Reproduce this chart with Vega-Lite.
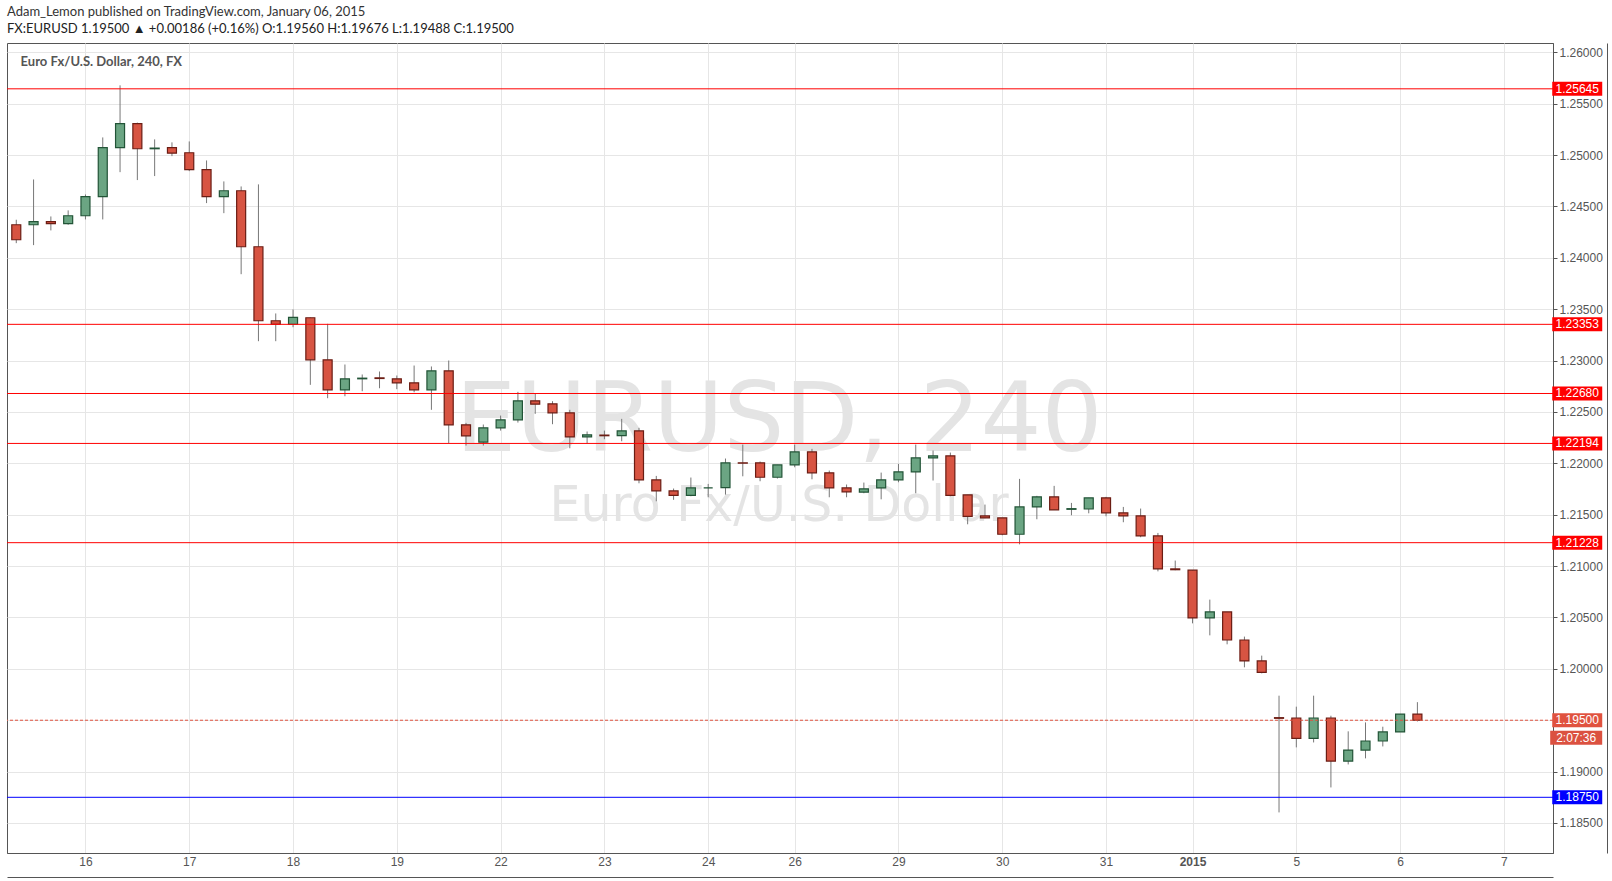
{
  "$schema": "https://vega.github.io/schema/vega-lite/v6.json",
  "width": 1546,
  "height": 810,
  "autosize": {"type": "none"},
  "padding": {"left": 7, "top": 43, "right": 59, "bottom": 28},
  "background": "#ffffff",
  "config": {
    "view": {"stroke": "#555555", "strokeWidth": 1},
    "font": "Liberation Sans"
  },
  "title": {
    "text": "Adam_Lemon published on TradingView.com, January 06, 2015",
    "subtitle": "FX:EURUSD 1.19500 ▲ +0.00186 (+0.16%) O:1.19560 H:1.19676 L:1.19488 C:1.19500",
    "anchor": "start",
    "frame": "group",
    "offset": 7,
    "subtitlePadding": 4,
    "font": "Lato",
    "fontSize": 13,
    "fontWeight": "normal",
    "color": "#333333",
    "subtitleFont": "Lato",
    "subtitleFontSize": 13,
    "subtitleColor": "#222222"
  },
  "datasets": {
    "candles": [
      {"i":0,"o":1.24322,"h":1.24371,"l":1.24143,"c":1.24176},
      {"i":1,"o":1.24322,"h":1.24763,"l":1.24124,"c":1.24352},
      {"i":2,"o":1.24352,"h":1.24403,"l":1.24267,"c":1.24333},
      {"i":3,"o":1.24333,"h":1.24462,"l":1.24322,"c":1.24410},
      {"i":4,"o":1.24410,"h":1.24617,"l":1.24374,"c":1.24595},
      {"i":5,"o":1.24595,"h":1.25172,"l":1.24374,"c":1.25072},
      {"i":6,"o":1.25072,"h":1.25679,"l":1.24834,"c":1.25306},
      {"i":7,"o":1.25306,"h":1.25316,"l":1.24757,"c":1.25062},
      {"i":8,"o":1.25062,"h":1.25153,"l":1.24796,"c":1.25068},
      {"i":9,"o":1.25072,"h":1.25124,"l":1.24990,"c":1.25019},
      {"i":10,"o":1.25023,"h":1.25133,"l":1.24844,"c":1.24858},
      {"i":11,"o":1.24858,"h":1.24948,"l":1.24533,"c":1.24595},
      {"i":12,"o":1.24595,"h":1.24744,"l":1.24435,"c":1.24653},
      {"i":13,"o":1.24653,"h":1.24695,"l":1.23841,"c":1.24108},
      {"i":14,"o":1.24108,"h":1.24715,"l":1.23189,"c":1.23388},
      {"i":15,"o":1.23388,"h":1.23459,"l":1.23189,"c":1.23354},
      {"i":16,"o":1.23354,"h":1.23498,"l":1.23325,"c":1.23420},
      {"i":17,"o":1.23417,"h":1.23420,"l":1.22764,"c":1.23008},
      {"i":18,"o":1.23008,"h":1.23358,"l":1.22634,"c":1.22716},
      {"i":19,"o":1.22716,"h":1.22962,"l":1.22653,"c":1.22823},
      {"i":20,"o":1.22823,"h":1.22865,"l":1.22702,"c":1.22829},
      {"i":21,"o":1.22832,"h":1.22894,"l":1.22731,"c":1.22826},
      {"i":22,"o":1.22823,"h":1.22855,"l":1.22722,"c":1.22784},
      {"i":23,"o":1.22784,"h":1.22952,"l":1.22692,"c":1.22716},
      {"i":24,"o":1.22716,"h":1.22943,"l":1.22521,"c":1.22901},
      {"i":25,"o":1.22901,"h":1.23001,"l":1.22196,"c":1.22375},
      {"i":26,"o":1.22375,"h":1.22394,"l":1.22173,"c":1.22268},
      {"i":27,"o":1.22206,"h":1.22378,"l":1.22173,"c":1.22346},
      {"i":28,"o":1.22346,"h":1.22465,"l":1.22319,"c":1.22424},
      {"i":29,"o":1.22424,"h":1.22696,"l":1.22397,"c":1.22609},
      {"i":30,"o":1.22609,"h":1.22677,"l":1.22482,"c":1.22576},
      {"i":31,"o":1.22579,"h":1.22605,"l":1.22381,"c":1.22492},
      {"i":32,"o":1.22492,"h":1.22521,"l":1.22147,"c":1.22258},
      {"i":33,"o":1.22258,"h":1.22310,"l":1.22193,"c":1.22278},
      {"i":34,"o":1.22275,"h":1.22319,"l":1.22235,"c":1.22269},
      {"i":35,"o":1.22269,"h":1.22433,"l":1.22215,"c":1.22316},
      {"i":36,"o":1.22316,"h":1.22346,"l":1.21806,"c":1.21839},
      {"i":37,"o":1.21839,"h":1.21878,"l":1.21631,"c":1.21732},
      {"i":38,"o":1.21732,"h":1.21755,"l":1.21645,"c":1.21689},
      {"i":39,"o":1.21689,"h":1.21862,"l":1.21680,"c":1.21761},
      {"i":40,"o":1.21761,"h":1.21800,"l":1.21670,"c":1.21761},
      {"i":41,"o":1.21764,"h":1.22047,"l":1.21696,"c":1.22005},
      {"i":42,"o":1.22005,"h":1.22183,"l":1.21874,"c":1.22002},
      {"i":43,"o":1.22005,"h":1.22018,"l":1.21826,"c":1.21865},
      {"i":44,"o":1.21865,"h":1.21985,"l":1.21852,"c":1.21985},
      {"i":45,"o":1.21985,"h":1.22183,"l":1.21962,"c":1.22112},
      {"i":46,"o":1.22112,"h":1.22141,"l":1.21845,"c":1.21908},
      {"i":47,"o":1.21908,"h":1.21930,"l":1.21670,"c":1.21761},
      {"i":48,"o":1.21761,"h":1.21794,"l":1.21670,"c":1.21723},
      {"i":49,"o":1.21720,"h":1.21813,"l":1.21709,"c":1.21752},
      {"i":50,"o":1.21761,"h":1.21910,"l":1.21650,"c":1.21839},
      {"i":51,"o":1.21839,"h":1.21995,"l":1.21816,"c":1.21917},
      {"i":52,"o":1.21917,"h":1.22183,"l":1.21709,"c":1.22054},
      {"i":53,"o":1.22054,"h":1.22125,"l":1.21833,"c":1.22073},
      {"i":54,"o":1.22073,"h":1.22105,"l":1.21680,"c":1.21689},
      {"i":55,"o":1.21693,"h":1.21693,"l":1.21407,"c":1.21485},
      {"i":56,"o":1.21488,"h":1.21599,"l":1.21466,"c":1.21469},
      {"i":57,"o":1.21469,"h":1.21469,"l":1.21300,"c":1.21310},
      {"i":58,"o":1.21310,"h":1.21849,"l":1.21212,"c":1.21576},
      {"i":59,"o":1.21576,"h":1.21684,"l":1.21456,"c":1.21674},
      {"i":60,"o":1.21674,"h":1.21781,"l":1.21547,"c":1.21547},
      {"i":61,"o":1.21553,"h":1.21615,"l":1.21495,"c":1.21559},
      {"i":62,"o":1.21556,"h":1.21664,"l":1.21514,"c":1.21664},
      {"i":63,"o":1.21664,"h":1.21674,"l":1.21485,"c":1.21518},
      {"i":64,"o":1.21518,"h":1.21576,"l":1.21427,"c":1.21489},
      {"i":65,"o":1.21489,"h":1.21560,"l":1.21281,"c":1.21294},
      {"i":66,"o":1.21294,"h":1.21323,"l":1.20949,"c":1.20973},
      {"i":67,"o":1.20973,"h":1.21054,"l":1.20960,"c":1.20965},
      {"i":68,"o":1.20960,"h":1.20960,"l":1.20443,"c":1.20496},
      {"i":69,"o":1.20496,"h":1.20674,"l":1.20326,"c":1.20554},
      {"i":70,"o":1.20554,"h":1.20554,"l":1.20239,"c":1.20281},
      {"i":71,"o":1.20281,"h":1.20314,"l":1.20015,"c":1.20077},
      {"i":72,"o":1.20077,"h":1.20129,"l":1.19956,"c":1.19966},
      {"i":73,"o":1.19525,"h":1.19739,"l":1.18603,"c":1.19519},
      {"i":74,"o":1.19522,"h":1.19632,"l":1.19236,"c":1.19323},
      {"i":75,"o":1.19323,"h":1.19739,"l":1.19284,"c":1.19522},
      {"i":76,"o":1.19522,"h":1.19544,"l":1.18846,"c":1.19103},
      {"i":77,"o":1.19103,"h":1.19392,"l":1.19070,"c":1.19210},
      {"i":78,"o":1.19210,"h":1.19479,"l":1.19129,"c":1.19298},
      {"i":79,"o":1.19298,"h":1.19437,"l":1.19245,"c":1.19386},
      {"i":80,"o":1.19386,"h":1.19561,"l":1.19386,"c":1.19560},
      {"i":81,"o":1.19560,"h":1.19676,"l":1.19488,"c":1.19500}
    ],
    "levels": [
      {"p":1.25645,"kind":"red line"},
      {"p":1.23353,"kind":"red line"},
      {"p":1.22680,"kind":"red line"},
      {"p":1.22194,"kind":"red line"},
      {"p":1.21228,"kind":"red line"},
      {"p":1.18750,"kind":"blue line"},
      {"p":1.19500,"kind":"last price"}
    ]
  },
  "resolve": {"axis": {"x": "independent", "y": "independent"}},
  "layer": [
    {
      "data": {"values": [{"label": "EURUSD, 240"}]},
      "mark": {"type": "text", "font": "DejaVu Sans", "fontSize": 96, "color": "#e4e4e4", "align": "center", "baseline": "alphabetic"},
      "encoding": {
        "x": {"datum": 44.1, "type": "quantitative", "scale": {"domain": [-0.247, 88.55], "nice": false, "zero": false}, "axis": null},
        "y": {"datum": 1.22125, "type": "quantitative", "scale": {"domain": [1.18208, 1.26091], "nice": false, "zero": false}, "axis": null},
        "text": {"field": "label"}
      }
    },
    {
      "data": {"values": [{"label": "Euro Fx/U.S. Dollar"}]},
      "mark": {"type": "text", "font": "DejaVu Sans", "fontSize": 49, "color": "#e4e4e4", "align": "center", "baseline": "alphabetic"},
      "encoding": {
        "x": {"datum": 44.1, "type": "quantitative", "scale": {"domain": [-0.247, 88.55], "nice": false, "zero": false}, "axis": null},
        "y": {"datum": 1.21443, "type": "quantitative", "scale": {"domain": [1.18208, 1.26091], "nice": false, "zero": false}, "axis": null},
        "text": {"field": "label"}
      }
    },
    {
      "data": {"name": "candles"},
      "mark": {"type": "rule", "color": "#777777", "strokeWidth": 1},
      "encoding": {
        "x": {
          "field": "i", "type": "quantitative",
          "scale": {"domain": [-0.247, 88.55], "nice": false, "zero": false},
          "axis": {
            "values": [4, 10, 16, 22, 28, 34, 40, 45, 51, 57, 63, 68, 74, 80, 86],
            "labelExpr": "['16','17','18','19','22','23','24','26','29','30','31','2015','5','6','7'][indexof([4,10,16,22,28,34,40,45,51,57,63,68,74,80,86], datum.value)]",
            "title": null,
            "grid": true,
            "gridColor": "#e6e6e6",
            "gridWidth": 1,
            "ticks": false,
            "domainColor": "#555555",
            "labelColor": "#555555",
            "labelFont": "Liberation Sans Narrow, Arial Narrow, Liberation Sans",
            "labelFontSize": 12,
            "labelFontWeight": {"condition": {"test": "datum.value == 68", "value": "bold"}, "value": "normal"},
            "labelPadding": 3,
            "labelFlush": false,
            "labelOverlap": false,
            "labelBound": false
          }
        },
        "y": {
          "field": "l", "type": "quantitative",
          "scale": {"domain": [1.18208, 1.26091], "nice": false, "zero": false},
          "axis": {
            "orient": "right",
            "values": [1.185, 1.19, 1.195, 1.2, 1.205, 1.21, 1.215, 1.22, 1.225, 1.23, 1.235, 1.24, 1.245, 1.25, 1.255, 1.26],
            "labelExpr": "abs(datum.value - 1.195) < 0.0001 ? '' : format(datum.value, '.5f')",
            "title": null,
            "grid": true,
            "gridColor": "#e6e6e6",
            "gridWidth": 1,
            "tickSize": 4,
            "tickColor": "#555555",
            "domainColor": "#555555",
            "labelColor": "#555555",
            "labelFont": "Liberation Sans Narrow, Arial Narrow, Liberation Sans",
            "labelFontSize": 12,
            "labelPadding": 2,
            "labelFlush": false,
            "labelOverlap": false,
            "labelBound": false
          }
        },
        "y2": {"field": "h"}
      }
    },
    {
      "data": {"name": "candles"},
      "mark": {"type": "bar", "width": 9, "strokeWidth": 1.2},
      "encoding": {
        "x": {"field": "i", "type": "quantitative", "scale": {"domain": [-0.247, 88.55], "nice": false, "zero": false}, "axis": null},
        "y": {"field": "o", "type": "quantitative", "scale": {"domain": [1.18208, 1.26091], "nice": false, "zero": false}, "axis": null},
        "y2": {"field": "c"},
        "fill": {"condition": {"test": "datum.c >= datum.o", "value": "#6ba583"}, "value": "#d75442"},
        "stroke": {"condition": {"test": "datum.c >= datum.o", "value": "#225437"}, "value": "#6b1d14"}
      }
    },
    {
      "data": {"name": "levels"},
      "mark": {"type": "rule", "strokeWidth": 1},
      "encoding": {
        "y": {"field": "p", "type": "quantitative", "scale": {"domain": [1.18208, 1.26091], "nice": false, "zero": false}, "axis": null},
        "color": {"field": "kind", "type": "nominal", "scale": {"domain": ["red line", "blue line", "last price"], "range": ["#ff0000", "#0000ff", "#e0523f"]}, "legend": null},
        "strokeDash": {"field": "kind", "type": "nominal", "scale": {"domain": ["red line", "blue line", "last price"], "range": [[1, 0], [1, 0], [3, 2]]}, "legend": null}
      }
    },
    {
      "data": {"name": "levels"},
      "mark": {"type": "point", "shape": "M-1,-0.28H1V0.28H-1Z", "size": 2500, "filled": true, "opacity": 1},
      "encoding": {
        "x": {"datum": 90.24, "type": "quantitative", "scale": {"domain": [-0.247, 88.55], "nice": false, "zero": false},
          "axis": {"orient": "bottom", "offset": 24, "domain": true, "domainColor": "#555555", "labels": false, "ticks": false, "grid": false, "title": null}},
        "y": {"field": "p", "type": "quantitative", "scale": {"domain": [1.18208, 1.26091], "nice": false, "zero": false},
          "axis": {"orient": "right", "offset": 54, "domain": true, "domainColor": "#555555", "labels": false, "ticks": false, "grid": false, "title": null}},
        "color": {"field": "kind", "type": "nominal", "scale": {"domain": ["red line", "blue line", "last price"], "range": ["#ff0000", "#0000ff", "#db5140"]}, "legend": null}
      }
    },
    {
      "data": {"name": "levels"},
      "mark": {"type": "text", "color": "#ffffff", "font": "Liberation Sans Narrow, Arial Narrow, Liberation Sans", "fontSize": 12, "align": "center", "baseline": "middle"},
      "encoding": {
        "x": {"datum": 90.24, "type": "quantitative", "scale": {"domain": [-0.247, 88.55], "nice": false, "zero": false}, "axis": null},
        "y": {"field": "p", "type": "quantitative", "scale": {"domain": [1.18208, 1.26091], "nice": false, "zero": false}, "axis": null},
        "text": {"field": "p", "type": "quantitative", "format": ".5f"}
      }
    },
    {
      "data": {"values": [{"p": 1.195, "countdown": "2:07:36"}]},
      "mark": {"type": "point", "shape": "M-1,0.4H1V0.94H-1Z", "size": 2704, "filled": true, "opacity": 1, "color": "#db5140"},
      "encoding": {
        "x": {"datum": 90.18, "type": "quantitative", "scale": {"domain": [-0.247, 88.55], "nice": false, "zero": false}, "axis": null},
        "y": {"field": "p", "type": "quantitative", "scale": {"domain": [1.18208, 1.26091], "nice": false, "zero": false}, "axis": null}
      }
    },
    {
      "data": {"values": [{"p": 1.195, "countdown": "2:07:36"}]},
      "mark": {"type": "text", "color": "#ffffff", "font": "Liberation Sans Narrow, Arial Narrow, Liberation Sans", "fontSize": 12, "align": "center", "baseline": "middle", "dy": 17.4},
      "encoding": {
        "x": {"datum": 90.18, "type": "quantitative", "scale": {"domain": [-0.247, 88.55], "nice": false, "zero": false}, "axis": null},
        "y": {"field": "p", "type": "quantitative", "scale": {"domain": [1.18208, 1.26091], "nice": false, "zero": false}, "axis": null},
        "text": {"field": "countdown"}
      }
    },
    {
      "data": {"values": [{"label": "Euro Fx/U.S. Dollar, 240, FX"}]},
      "mark": {"type": "text", "font": "Lato", "fontSize": 13, "fontWeight": "bold", "color": "#555555", "align": "left", "baseline": "alphabetic"},
      "encoding": {
        "x": {"datum": 0.25, "type": "quantitative", "scale": {"domain": [-0.247, 88.55], "nice": false, "zero": false}, "axis": null},
        "y": {"datum": 1.25867, "type": "quantitative", "scale": {"domain": [1.18208, 1.26091], "nice": false, "zero": false}, "axis": null},
        "text": {"field": "label"}
      }
    }
  ]
}
